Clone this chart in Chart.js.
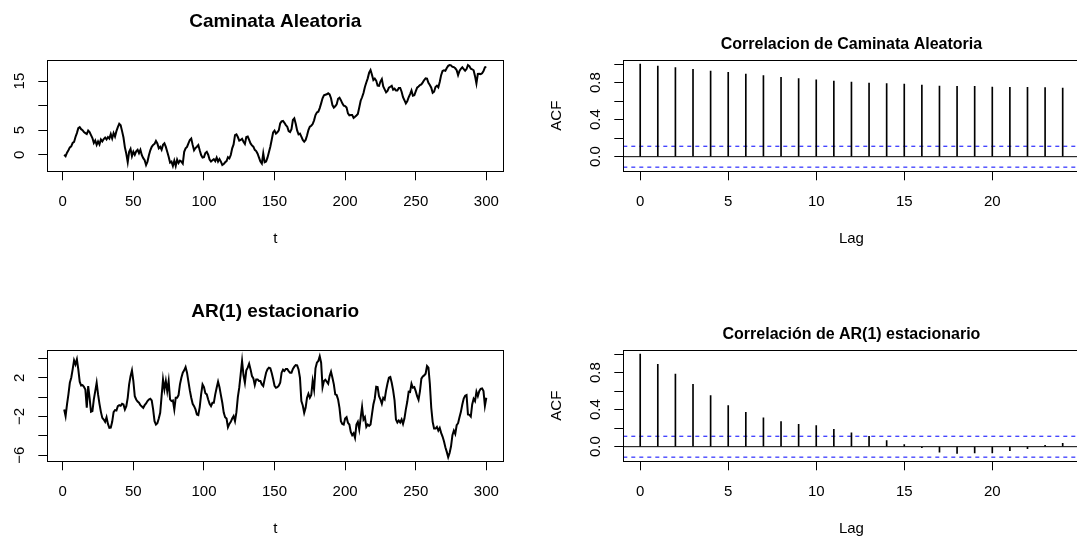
<!DOCTYPE html>
<html>
<head>
<meta charset="utf-8">
<script src="https://cdn.jsdelivr.net/npm/chart.js@4.4.1/dist/chart.umd.min.js"></script>
<style>
  html, body { margin: 0; padding: 0; background: #fff; overflow: hidden; width: 1077px; height: 537px; }
  canvas { position: absolute; }
</style>
</head>
<body>
<canvas id="caminata" width="538" height="268" style="left:0;top:0"></canvas>
<canvas id="acfCaminata" width="545" height="268" style="left:538px;top:0"></canvas>
<canvas id="ar1" width="538" height="268" style="left:0;top:290px"></canvas>
<canvas id="acfAr1" width="545" height="268" style="left:538px;top:290px"></canvas>
<script>
// valores (t = 1..300)
const caminata = [
  0.0, -0.3, 0.4, 0.9, 1.5, 1.7, 2.4, 2.6, 3.6, 4.4,
  5.4, 5.6, 5.2, 5.0, 4.6, 4.4, 4.2, 4.9, 4.6, 4.0,
  3.4, 2.4, 2.9, 2.0, 2.7, 2.1, 3.1, 2.7, 3.2, 3.5,
  3.1, 3.6, 3.3, 4.2, 3.3, 4.4, 3.7, 4.8, 5.6, 6.3,
  6.0, 4.8, 3.5, 1.5, 0.2, -1.5, 0.6, 1.2, -0.3, 0.6,
  0.0, 0.7, 1.0, 0.3, 1.0, -0.1, -0.7, -1.1, -2.1, -1.4,
  -0.1, 0.9, 1.6, 2.0, 2.2, 2.8, 2.3, 1.3, 1.6, 1.0,
  2.0, 2.3, 1.6, 0.6, -0.4, -1.6, -1.4, -2.3, -1.2, -2.3,
  -1.0, -1.7, -1.2, -1.4, -1.8, 0.6, 1.3, 1.6, 2.3, 3.0,
  3.3, 2.0, 0.9, 1.35, 1.63, 1.97, 0.9, -0.07, -0.6, -0.5,
  0.35, 0.6, 0.0, -1.0, -1.4, -1.15, -0.9, -1.3, -0.6, -1.4,
  -0.9, -1.4, -2.1, -1.9, -1.55, -1.3, -0.5, -0.75, -0.07, 1.3,
  2.1, 4.0, 4.15, 3.6, 2.85, 3.0, 3.25, 2.65, 2.2, 3.6,
  3.7, 3.0, 2.3, 1.9, 1.63, 1.0, 0.75, 0.2, -0.6, -1.4,
  -1.8, 0.27, -1.55, -1.4, -0.6, 0.5, 1.63, 3.05, 4.55, 4.9,
  4.3, 4.55, 4.95, 6.38, 6.8, 6.9, 6.5, 6.04, 5.7, 4.8,
  4.6, 5.2, 7.06, 7.4, 6.3, 4.95, 4.15, 4.3, 3.67, 3.0,
  2.65, 3.0, 3.9, 5.02, 5.7, 5.9, 6.25, 7.0, 8.08, 8.6,
  8.76, 9.5, 10.46, 11.5, 12.1, 12.2, 12.3, 12.5, 12.3, 11.5,
  10.1, 9.6, 9.85, 10.25, 11.4, 11.6, 11.1, 10.46, 10.0, 9.9,
  9.6, 8.42, 8.0, 8.08, 8.08, 7.5, 7.74, 8.0, 8.3, 9.6,
  11.0, 11.7, 12.56, 13.8, 14.7, 15.55, 16.7, 17.25, 16.3, 15.2,
  15.5, 15.1, 14.05, 14.0, 14.9, 15.4, 13.9, 13.3, 12.7, 13.0,
  13.65, 13.85, 14.05, 13.25, 13.45, 13.1, 13.1, 13.6, 13.6, 12.83,
  11.7, 11.1, 10.46, 10.9, 11.7, 12.35, 13.1, 12.0, 12.1, 12.9,
  13.65, 13.9, 14.2, 14.33, 14.73, 15.2, 15.55, 15.5, 14.66, 14.2,
  13.65, 12.6, 12.83, 13.8, 14.05, 13.7, 14.8, 16.2, 17.05, 17.2,
  17.1, 17.65, 18.1, 18.26, 18.2, 17.9, 17.85, 17.6, 17.2, 16.2,
  17.05, 17.5, 17.8, 17.45, 17.1, 17.45, 18.26, 18.05, 17.5, 17.4,
  17.2, 16.0, 14.5, 16.45, 16.5, 16.4, 16.6, 17.05, 17.8, 17.85
];

const ar1 = [
  -1.27, -1.96, -0.76, 0.28, 1.48, 2.0, 2.86, 3.8, 3.38, 3.9,
  2.86, 1.59, 1.2, 1.24, 1.07, 0.79, -1.1, 1.14, -0.07, -1.52,
  -1.45, -0.24, 0.62, 1.48, 0.28, -0.69, -1.52, -2.14, -2.31, -2.55,
  -2.07, -2.76, -3.17, -3.14, -2.55, -1.55, -1.34, -1.38, -0.93, -0.83,
  -0.9, -0.69, -0.76, -1.27, -0.93, -0.07, 1.31, 2.17, 2.76, 1.66,
  0.1, -0.24, -0.45, -0.58, -0.83, -0.96, -1.1, -0.83, -0.65, -0.41,
  -0.24, -0.17, -0.34, -1.27, -2.48, -2.83, -2.69, -2.21, -1.62, 0.1,
  1.83, 0.79, 1.66, 0.62, 1.66, -0.24, -0.41, -0.34, -1.27, -0.07,
  -0.07, 0.21, 1.31, 2.0, 2.52, 2.76, 3.1, 2.52, 1.59, 0.69,
  -0.07, -0.69, -0.93, -1.27, -1.79, -1.86, -1.03, 0.28, 1.31, 1.03,
  0.41, 0.28, -0.24, -0.69, -0.93, -0.58, -0.58, 0.28, 0.97, 1.59,
  1.03, 0.21, -0.58, -1.59, -2.07, -2.21, -3.1, -2.76, -2.55, -2.21,
  -1.96, -2.48, -1.55, 0.0, 0.97, 2.35, 3.73, 2.28, 1.48, 2.76,
  3.04, 3.45, 2.86, 2.17, 1.93, 1.24, 1.83, 1.83, 1.66, 1.66,
  1.31, 1.14, 1.86, 2.52, 2.86, 3.04, 2.97, 2.48, 1.86, 1.17,
  0.97, 1.03, 1.17, 1.48, 2.52, 2.83, 2.69, 2.9, 2.9, 2.69,
  2.52, 2.52, 2.9, 3.14, 3.31, 3.28, 2.86, 2.0, -0.41, -0.86,
  -1.62, -1.1, -0.07, 0.35, -0.07, 0.21, 1.66, 0.79, 2.97, 3.55,
  3.73, 4.21, 3.55, 1.03, 1.66, 1.8, 1.59, 1.38, 2.17, 2.62,
  2.0, 1.31, 0.28, 0.21, -0.24, -1.1, -2.48, -2.76, -2.83, -2.2,
  -2.07, -2.65, -2.83, -3.59, -3.93, -3.72, -4.2, -2.83, -2.55, -3.34,
  -2.14, -1.0, -2.31, -2.07, -3.07, -2.83, -2.96, -2.83, -1.79, -0.76,
  -0.14, 1.07, 1.03, 0.1, -0.24, -0.69, -0.07, -0.24, 0.69, 1.41,
  2.0, 2.07, 1.48, 0.69, -0.34, -2.31, -2.62, -2.41, -2.62, -2.31,
  -2.76, -2.21, -1.27, -0.48, 0.55, 0.52, 1.38, 0.97, 1.03, 0.62,
  0.1, -0.27, 0.62, 1.9, 2.14, 2.24, 2.41, 3.21, 3.04, 1.38,
  -1.1, -2.55, -3.24, -3.24, -3.07, -3.45, -3.17, -3.69, -4.07, -4.55,
  -5.17, -5.65, -6.2, -5.76, -5.07, -3.93, -3.45, -3.79, -2.9, -2.69,
  -2.07, -1.52, -0.76, -0.14, 0.14, 0.21, -1.79, -1.83, -2.0, -0.76,
  -0.17, -0.41, 0.55, 0.1, 0.62, 0.86, 0.9, 0.62, -0.9, -0.07
];

const lags = [0, 1, 2, 3, 4, 5, 6, 7, 8, 9, 10, 11, 12, 13, 14, 15, 16, 17, 18, 19, 20, 21, 22, 23, 24];
const acfCaminata = [1.0, 0.98, 0.962, 0.944, 0.926, 0.912, 0.894, 0.876, 0.858, 0.843, 0.832, 0.818, 0.807,
  0.796, 0.789, 0.786, 0.775, 0.764, 0.76, 0.76, 0.753, 0.75, 0.75, 0.746, 0.742];
const acfAr1 = [1.0, 0.89, 0.786, 0.674, 0.551, 0.443, 0.371, 0.313, 0.27, 0.241, 0.227, 0.187, 0.151,
  0.112, 0.065, 0.022, -0.011, -0.058, -0.072, -0.068, -0.068, -0.043, -0.022, 0.014, 0.036];
const limiteConfianza = 0.113;

const ticksT = [0, 50, 100, 150, 200, 250, 300];
const ticksLag = [0, 5, 10, 15, 20];
const ticksCaminataY = [0, 5, 10, 15];
const etiquetasCaminataY = ['0', '5', '', '15'];
const ticksAr1Y = [-6, -4, -2, 0, 2, 4];
const etiquetasAr1Y = ['\u22126', '', '\u22122', '', '2', ''];
const ticksAcfY = [0, 0.2, 0.4, 0.6, 0.8, 1.0];
const etiquetasAcfY = ['0.0', '', '0.4', '', '0.8', ''];

Chart.defaults.font.family = '"Liberation Sans", Arial, Helvetica, sans-serif';
Chart.defaults.font.size = 15;
Chart.defaults.font.lineHeight = 1.2;
Chart.defaults.color = '#000';

// marco alrededor del area de grafico (como box() en R)
const marco = {
  id: 'marco',
  afterDraw(chart) {
    const a = chart.chartArea;
    const ctx = chart.ctx;
    ctx.save();
    ctx.strokeStyle = '#000';
    ctx.lineWidth = 1;
    ctx.strokeRect(Math.round(a.left) + 0.5, Math.round(a.top) + 0.5,
      Math.round(a.right - a.left), Math.round(a.bottom - a.top));
    ctx.restore();
  }
};

function ejeX(min, max, ticks, titulo) {
  return {
    type: 'linear', min: min, max: max, offset: false,
    afterBuildTicks: s => { s.ticks = ticks.map(v => ({ value: v })); },
    afterFit: s => { s.height = 96.7; },
    grid: { offset: false, drawOnChartArea: false, drawTicks: true, tickLength: 9, color: '#000' },
    border: { display: true, color: '#000' },
    ticks: { padding: 12.2, maxRotation: 0, minRotation: 0, autoSkip: false, callback: v => String(v) },
    title: { display: true, text: titulo, padding: { top: 0, bottom: 20 } }
  };
}

function ejeY(min, max, ticks, etiquetas, ancho, pad, titulo) {
  return {
    min: min, max: max,
    afterBuildTicks: s => { s.ticks = ticks.map(v => ({ value: v })); },
    afterFit: s => { s.width = ancho; },
    grid: { drawOnChartArea: false, drawTicks: true, tickLength: 9, color: '#000' },
    border: { display: true, color: '#000' },
    ticks: { minRotation: 90, maxRotation: 90, crossAlign: 'center', padding: pad, autoSkip: false,
      callback: (v, i) => etiquetas[i] },
    title: { display: !!titulo, text: titulo || '', padding: { top: 10.3, bottom: 0 } }
  };
}

function serie(id, valores, yMin, yMax, yTicks, yEtiquetas, yPad, titulo) {
  return new Chart(document.getElementById(id), {
    type: 'line',
    data: {
      datasets: [{
        data: valores.map((v, i) => ({ x: i + 1, y: v })),
        borderColor: '#000', borderWidth: 2, pointRadius: 0, tension: 0, fill: false
      }]
    },
    options: {
      responsive: false, animation: false, devicePixelRatio: 1,
      layout: { padding: { left: 0, right: 34.8, top: 0, bottom: 0 } },
      plugins: {
        legend: { display: false }, tooltip: { enabled: false },
        title: { display: true, text: titulo, fullSize: false,
          font: { size: 19, weight: 'bold' }, padding: { top: 10.6, bottom: 26.6 } }
      },
      scales: {
        x: ejeX(-10.96, 311.96, ticksT, 't'),
        y: ejeY(yMin, yMax, yTicks, yEtiquetas, 47.3, yPad)
      }
    },
    plugins: [marco]
  });
}

function correlograma(id, acf, titulo) {
  const lagMin = -0.96, lagMax = 24.96;
  const linea = (y, color, dash) => ({
    type: 'line', data: [{ x: lagMin, y: y }, { x: lagMax, y: y }],
    borderColor: color, borderWidth: 1, borderDash: dash, pointRadius: 0, fill: false
  });
  return new Chart(document.getElementById(id), {
    type: 'bar',
    data: {
      datasets: [
        { type: 'bar', data: lags.map((l, i) => ({ x: l, y: acf[i] })),
          backgroundColor: '#000', borderWidth: 0, barThickness: 1 },
        linea(0, '#000', []),
        linea(limiteConfianza, '#0000ff', [4, 4]),
        linea(-limiteConfianza, '#0000ff', [4, 4])
      ]
    },
    options: {
      responsive: false, animation: false, devicePixelRatio: 1,
      layout: { padding: { left: 0, right: 3.4, top: 0, bottom: 0 } },
      plugins: {
        legend: { display: false }, tooltip: { enabled: false },
        title: { display: true, text: titulo, fullSize: false,
          font: { size: 16, weight: 'bold' }, padding: { top: 35.4, bottom: 5.4 } }
      },
      scales: {
        x: ejeX(lagMin, lagMax, ticksLag, 'Lag'),
        y: ejeY(-0.158, 1.045, ticksAcfY, etiquetasAcfY, 85.3, 7.9, 'ACF')
      }
    },
    plugins: [marco]
  });
}

serie('caminata', caminata, -3.38, 19.29, ticksCaminataY, etiquetasCaminataY, 9.65, 'Caminata Aleatoria');
serie('ar1', ar1, -6.62, 4.86, ticksAr1Y, etiquetasAr1Y, 9.45, 'AR(1) estacionario');
correlograma('acfCaminata', acfCaminata, 'Correlacion de Caminata Aleatoria');
correlograma('acfAr1', acfAr1, 'Correlación de AR(1) estacionario');
</script>
</body>
</html>
